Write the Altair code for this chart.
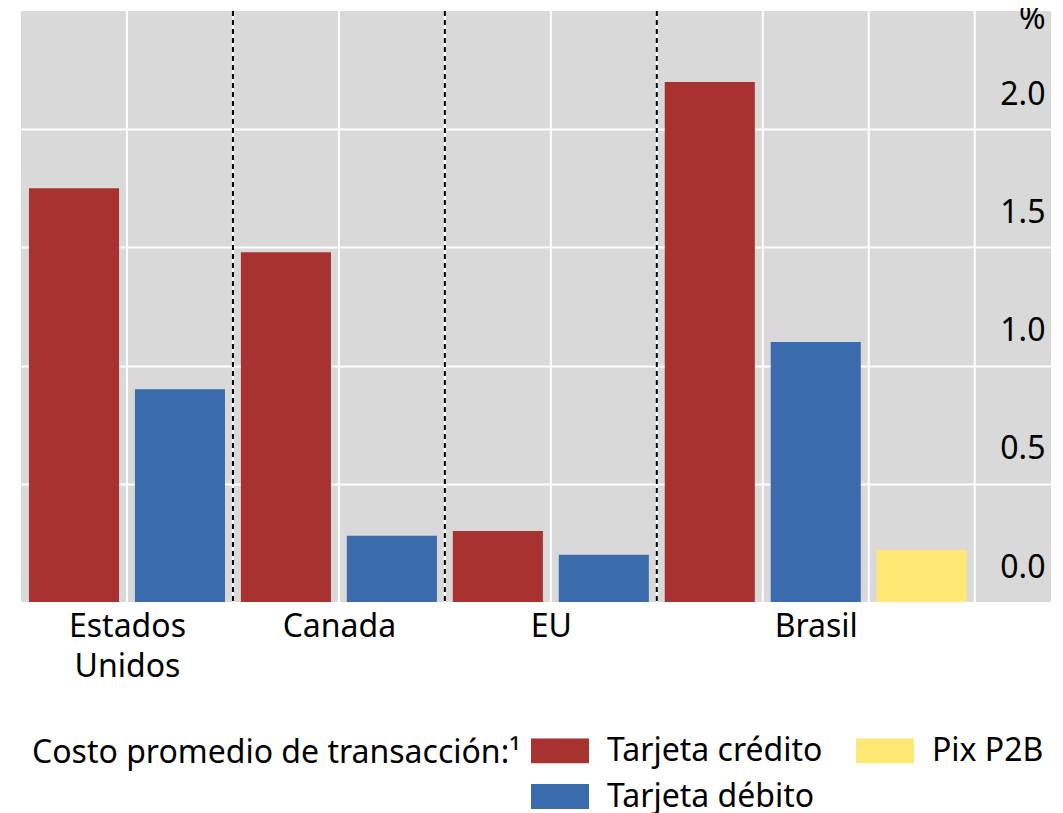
import json
import altair as alt
import pandas as pd

# ---- data ----
countries = ["Estados Unidos", "Canada", "EU", "Brasil"]
series = ["Tarjeta crédito", "Tarjeta débito", "Pix P2B"]
credit = [1.75, 1.48, 0.30, 2.20]
debit = [0.90, 0.28, 0.20, 1.10]
pix = [None, None, None, 0.22]
y_ticks = [0.0, 0.5, 1.0, 1.5, 2.0]
legend_order = ["Tarjeta crédito", "Tarjeta débito", "Pix P2B"]
legend_colors = ["#A8322F", "#3A6BAD", "#FFE873"]
legend_title = "Costo promedio de transacción:¹"

FONT = "Noto Sans"

# ---- build table (one slot per bar) ----
rows = []
slot = 0
group_start = []
centers = []
for i, c in enumerate(countries):
    start = slot
    for s, vals in zip(series, [credit, debit, pix]):
        v = vals[i]
        if v is None:
            continue
        rows.append({"country": c, "serie": s, "value": v,
                     "x0": slot + 0.075, "x1": slot + 0.925})
        slot += 1
    group_start.append(start)
    centers.append((start + slot) / 2)
n_slots = slot
bars_df = pd.DataFrame(rows)
bounds_df = pd.DataFrame({"b": list(range(1, n_slots + 1))})
sep_df = pd.DataFrame({"b": group_start[1:]})

x_scale = alt.Scale(domain=[0, n_slots + 0.72], nice=False, zero=False, padding=0)

label_expr = "split({}[indexof({}, datum.value)], ' ')".format(
    json.dumps(countries), json.dumps(centers))

x_axis = alt.Axis(values=centers, labelExpr=label_expr, grid=False,
                  domain=False, ticks=False, labelFontSize=32,
                  labelFont=FONT, labelColor="black",
                  labelBaseline="alphabetic", labelPadding=34,
                  labelLineHeight=40, labelFlush=False,
                  labelOverlap=False, labelAlign="center", title=None)

grid = alt.Chart(bounds_df).mark_rule(color="white", strokeWidth=2).encode(
    x=alt.X("b:Q", scale=x_scale, axis=x_axis)
)

bars = alt.Chart(bars_df).mark_bar(orient="vertical").encode(
    x=alt.X("x0:Q", scale=x_scale, axis=x_axis),
    x2="x1:Q",
    y=alt.Y("value:Q", scale=alt.Scale(domain=[0, 2.5], nice=False, padding=0),
            axis=alt.Axis(orient="right", values=y_ticks, format=".1f",
                          title="%", titleAngle=0, titleAlign="right",
                          titleBaseline="alphabetic", titleX=-6, titleY=17,
                          titleFontSize=32, titleFontWeight="normal",
                          titleFont=FONT, titleColor="black",
                          labelFontSize=32, labelFont=FONT, labelColor="black",
                          labelAlign="right", labelBaseline="middle",
                          labelPadding=-6, labelOffset=-35, labelFlush=False,
                          ticks=False, domain=False,
                          grid=True, gridColor="white", gridWidth=2,
                          gridOpacity={"condition": {"test": "datum.value === 0", "value": 0}, "value": 1})),
    y2=alt.datum(0),
    color=alt.Color("serie:N",
                    scale=alt.Scale(domain=legend_order, range=legend_colors),
                    legend=alt.Legend(
                        title=legend_title, orient="none", legendX=11, legendY=727,
                        columns=2, direction="vertical",
                        symbolType="M-1,-0.431H1V0.431H-1Z", symbolSize=3364,
                        symbolStrokeWidth=0, symbolOpacity=1, clipHeight=25,
                        labelOffset=18, columnPadding=33, rowPadding=13,
                        labelFontSize=32, labelFont=FONT, labelColor="black",
                        labelLimit=400, titleOrient="left", titlePadding=10,
                        titleFontSize=32, titleFont=FONT, titleColor="black",
                        titleFontWeight="normal", titleLimit=800,
                        titleBaseline="top", titleAnchor="start", padding=0)),
)

seps = alt.Chart(sep_df).mark_rule(color="#000000", strokeWidth=2,
                                   strokeDash=[5, 4]).encode(
    x=alt.X("b:Q", scale=x_scale, axis=x_axis)
)

chart = alt.layer(grid, bars, seps).properties(
    width=1030, height=591,
    autosize=alt.AutoSizeParams(type="none"),
    padding={"left": 13, "top": 3, "right": 0, "bottom": 215},
).configure(font=FONT).configure_view(fill="#D9D9D9", strokeWidth=0)

chart.save("out.html", embed_options={"renderer": "svg", "actions": False})
